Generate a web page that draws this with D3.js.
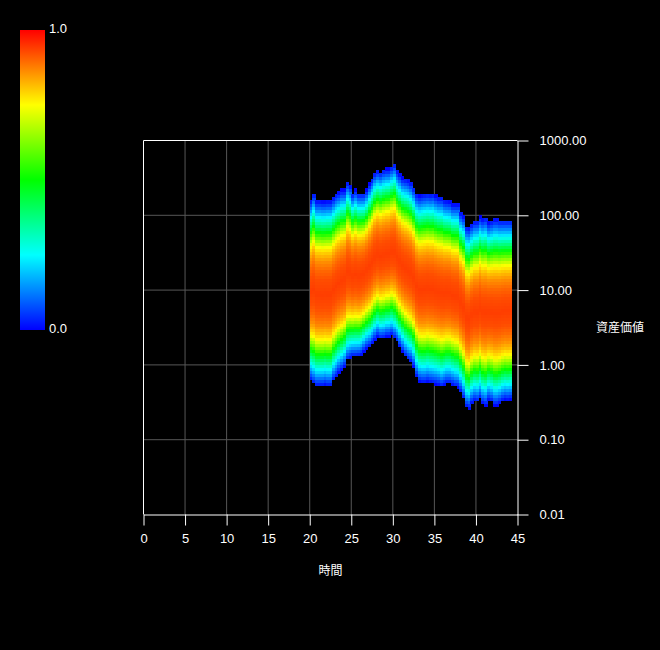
<!DOCTYPE html>
<html>
<head>
<meta charset="utf-8">
<script src="https://cdn.jsdelivr.net/npm/d3@7"></script>
<style>
  body { margin: 0; background: #000; }
  svg { display: block; }
</style>
</head>
<body>
<div id="chart"></div>
<script>
// band edges of the simulated asset-value distribution, one entry per time column
// (asset value units)
const bandTop = [158, 194, 158, 158, 155, 155, 158, 158, 175, 194,
                 204, 219, 219, 277, 250, 198, 219, 198, 198, 198,
                 219, 264, 308, 366, 397, 380, 406, 418, 418, 449,
                 488, 397, 358, 317, 308, 298, 277, 238, 194, 184,
                 190, 194, 198, 194, 198, 184, 175, 175, 161, 158,
                 155, 142, 142, 142, 110, 99, 71, 69, 77, 84,
                 85, 96, 90, 94, 81, 85, 90, 90, 87, 87,
                 87, 87, 87];
const bandBottom = [0.618, 0.558, 0.514, 0.514, 0.514, 0.531, 0.514, 0.514, 0.618, 0.686,
                    0.775, 0.841, 0.933, 1.15, 1.21, 1.27, 1.27, 1.29, 1.34, 1.48,
                    1.64, 1.73, 1.91, 2.12, 2.35, 2.2, 2.23, 2.35, 2.35, 2.47,
                    2.23, 2.01, 1.73, 1.48, 1.27, 1.15, 1.09, 0.933, 0.686, 0.587,
                    0.569, 0.569, 0.587, 0.569, 0.558, 0.547, 0.531, 0.503, 0.531, 0.558,
                    0.558, 0.531, 0.503, 0.493, 0.431, 0.352, 0.272, 0.259, 0.302, 0.327,
                    0.317, 0.352, 0.302, 0.286, 0.334, 0.317, 0.286, 0.286, 0.302, 0.327,
                    0.341, 0.334, 0.341];
const colStart = 20, colStep = 1 / 3;

// density across the band: distance from band centre (0) to edge (1)
const profileDist    = [0, 0.15, 0.25, 0.35, 0.43, 0.5, 0.58, 0.66, 0.74, 0.82, 0.91, 1.0];
const profileDensity = [0.94, 0.925, 0.9, 0.86, 0.81, 0.75, 0.63, 0.5, 0.37, 0.25, 0.12, 0.0];

const xTicks = [0, 5, 10, 15, 20, 25, 30, 35, 40, 45];
const yTicks = [0.01, 0.1, 1, 10, 100, 1000];
const binsPerDecade = 25;

const width = 660, height = 650;

const x = d3.scaleLinear().domain([0, 45]).range([143.5, 517.5]);
const y = d3.scaleLog().domain([0.01, 1000]).range([514.5, 140.5]);
const profile = d3.scaleLinear().domain(profileDist).range(profileDensity).clamp(true);
const color = v => d3.hsl((1 - v) * 240, 1, 0.5).toString();

const svg = d3.select("#chart").append("svg")
    .attr("width", width)
    .attr("height", height)
    .style("background", "#000");

// grid
const grid = svg.append("g").attr("stroke", "#575757").attr("stroke-width", 1);
grid.selectAll("line.v").data(xTicks.slice(1, -1)).enter().append("line")
    .attr("x1", d => x(d)).attr("x2", d => x(d))
    .attr("y1", y(1000)).attr("y2", y(0.01));
grid.selectAll("line.h").data(yTicks.slice(1, -1)).enter().append("line")
    .attr("x1", x(0)).attr("x2", x(45))
    .attr("y1", d => y(d)).attr("y2", d => y(d));

// log-value bins
const lo = Math.log10(0.01), hi = Math.log10(1000);
const nBins = Math.round((hi - lo) * binsPerDecade);
const binEdges = d3.range(nBins + 1).map(i => Math.pow(10, lo + i / binsPerDecade));

const cells = [];
bandTop.forEach((top, k) => {
  const lt = Math.log10(top), lb = Math.log10(bandBottom[k]);
  const c = (lt + lb) / 2, hw = (lt - lb) / 2;
  for (let b = 0; b < nBins; b++) {
    const m = (Math.log10(binEdges[b]) + Math.log10(binEdges[b + 1])) / 2;
    const dist = Math.abs(m - c) / hw;
    if (dist > 1) continue;
    cells.push({
      t0: colStart + k * colStep, t1: colStart + (k + 1) * colStep,
      v0: binEdges[b], v1: binEdges[b + 1],
      density: profile(dist)
    });
  }
});

svg.append("g").attr("shape-rendering", "crispEdges")
  .selectAll("rect").data(cells).enter().append("rect")
    .attr("x", d => x(d.t0))
    .attr("width", d => x(d.t1) - x(d.t0) + 0.5)
    .attr("y", d => y(d.v1))
    .attr("height", d => y(d.v0) - y(d.v1) + 0.5)
    .attr("fill", d => color(d.density));

// frame
svg.append("g").attr("stroke", "#fff").attr("fill", "none")
  .append("path")
    .attr("d", `M${x(0)},${y(0.01)}V${y(1000)}H${x(45)}`);

const fontFamily = "'Liberation Sans', Arial, sans-serif";

const xAxis = svg.append("g")
    .attr("transform", `translate(0,${y(0.01)})`)
    .call(d3.axisBottom(x).tickValues(xTicks).tickSize(11).tickSizeOuter(0).tickPadding(8));

const yAxis = svg.append("g")
    .attr("transform", `translate(${x(45)},0)`)
    .call(d3.axisRight(y).tickValues(yTicks).tickFormat(d3.format(".2f"))
      .tickSize(11).tickSizeOuter(0).tickPadding(11));

[xAxis, yAxis].forEach(g => {
  g.attr("font-family", fontFamily).attr("font-size", 13);
  g.selectAll("path, line").attr("stroke", "#fff");
  g.selectAll("text").attr("fill", "#fff");
});

svg.append("text")
    .attr("x", (x(0) + x(45)) / 2).attr("y", 575)
    .attr("text-anchor", "middle")
    .attr("font-family", "'Noto Sans CJK JP', sans-serif").attr("font-size", 12)
    .attr("fill", "#fff")
    .text("時間");

svg.append("text")
    .attr("x", 620).attr("y", (y(1000) + y(0.01)) / 2).attr("dy", "0.35em")
    .attr("text-anchor", "middle")
    .attr("font-family", "'Noto Sans CJK JP', sans-serif").attr("font-size", 12)
    .attr("fill", "#fff")
    .text("資産価値");

// colour bar
const grad = svg.append("defs").append("linearGradient")
    .attr("id", "cbar").attr("x1", 0).attr("y1", 1).attr("x2", 0).attr("y2", 0);
grad.selectAll("stop").data(d3.range(0, 1.0001, 0.05)).enter().append("stop")
    .attr("offset", d => d)
    .attr("stop-color", d => color(d));

const cb = d3.scaleLinear().domain([0, 1]).range([330, 30]);
svg.append("rect")
    .attr("x", 20).attr("y", cb(1))
    .attr("width", 25).attr("height", cb(0) - cb(1))
    .attr("fill", "url(#cbar)");

svg.append("g").selectAll("text").data([0, 1]).enter().append("text")
    .attr("x", 49).attr("y", d => cb(d) - 2).attr("dy", "0.35em")
    .attr("font-family", fontFamily).attr("font-size", 13)
    .attr("fill", "#fff")
    .text(d => d3.format(".1f")(d));
</script>
</body>
</html>
